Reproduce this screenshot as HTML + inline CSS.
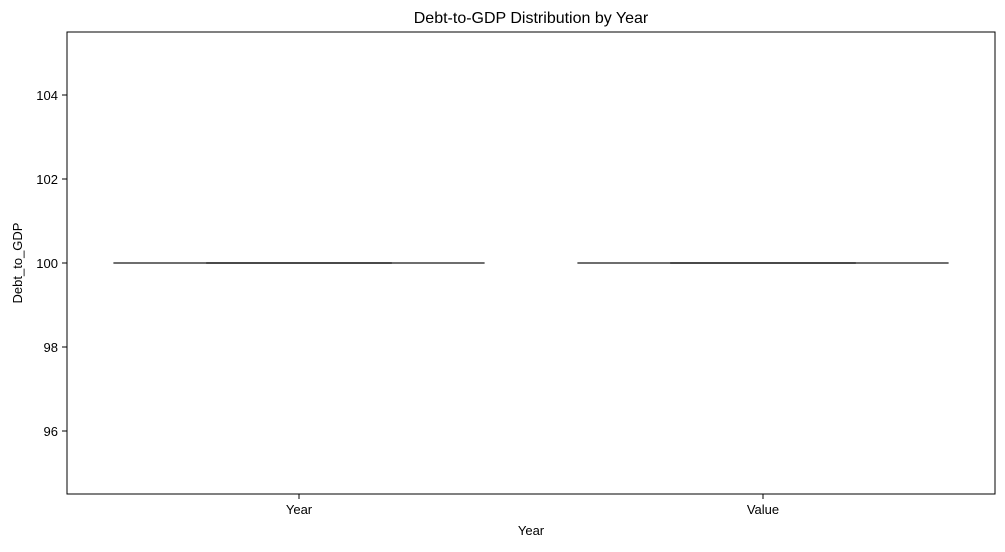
<!DOCTYPE html>
<html><head><meta charset="utf-8"><style>
body{margin:0;background:#fff;font-family:"Liberation Sans","DejaVu Sans",sans-serif}
</style></head><body>
<svg id="chart" width="1005" height="547" xmlns="http://www.w3.org/2000/svg" font-family="Liberation Sans, DejaVu Sans, sans-serif">
<text x="531" y="23" font-size="16" text-anchor="middle">Debt-to-GDP Distribution by Year</text>
<g id="plot"></g>
<rect x="67" y="32" width="928" height="462" fill="none" stroke="#000" stroke-width="1"/>
<text x="531" y="535" font-size="13" text-anchor="middle">Year</text>
<text transform="translate(22,263) rotate(-90)" font-size="13" text-anchor="middle">Debt_to_GDP</text>
</svg>
<script>
const categories = ["Year","Value"];
const medians = [100,100];
const q1 = [100,100];
const q3 = [100,100];
const whiskLow = [100,100];
const whiskHigh = [100,100];
const yTicks = [96,98,100,102,104];
const yMin=94.5, yMax=105.5;
const L=67,R=995,T=32,B=494;
const ns="http://www.w3.org/2000/svg";
const g=document.getElementById('plot');
const y=v=>B-(v-yMin)/(yMax-yMin)*(B-T);
const x=i=>L+(i+0.5)/categories.length*(R-L);
const bw=(R-L)/categories.length*0.8;
function mk(t,a){const e=document.createElementNS(ns,t);for(const k in a)e.setAttribute(k,a[k]);g.appendChild(e);return e;}
yTicks.forEach(v=>{
 const l=mk('line',{x1:L-5,x2:L,y1:y(v),y2:y(v),stroke:'#000'});
 
 
 const t=mk('text',{x:L-9,y:y(v)+5,'font-size':13,'text-anchor':'end'});t.textContent=v;
 
 
});
categories.forEach((c,i)=>{
 const cx=x(i);
 const tk=mk('line',{x1:cx,x2:cx,y1:B,y2:B+5,stroke:'#000'});
 
 
 const t=mk('text',{x:cx,y:B+20,'font-size':13,'text-anchor':'middle'});t.textContent=c;
 
 
 const bx=mk('rect',{x:cx-bw/2,y:y(q3[i]),width:bw,height:Math.max(y(q1[i])-y(q3[i]),0),fill:'#4c72b0',stroke:'#3f3f3f','stroke-width':1.5});
 
 
 const cap1=mk('line',{x1:cx-bw/4,x2:cx+bw/4,y1:y(whiskLow[i]),y2:y(whiskLow[i]),stroke:'#3f3f3f','stroke-width':1.5});
 
 
 const cap2=mk('line',{x1:cx-bw/4,x2:cx+bw/4,y1:y(whiskHigh[i]),y2:y(whiskHigh[i]),stroke:'#3f3f3f','stroke-width':1.5});
 
 
 const md=mk('line',{x1:cx-bw/2,x2:cx+bw/2,y1:y(medians[i]),y2:y(medians[i]),stroke:'#3f3f3f','stroke-width':1.5});
 
 
});
</script>
</body></html>
